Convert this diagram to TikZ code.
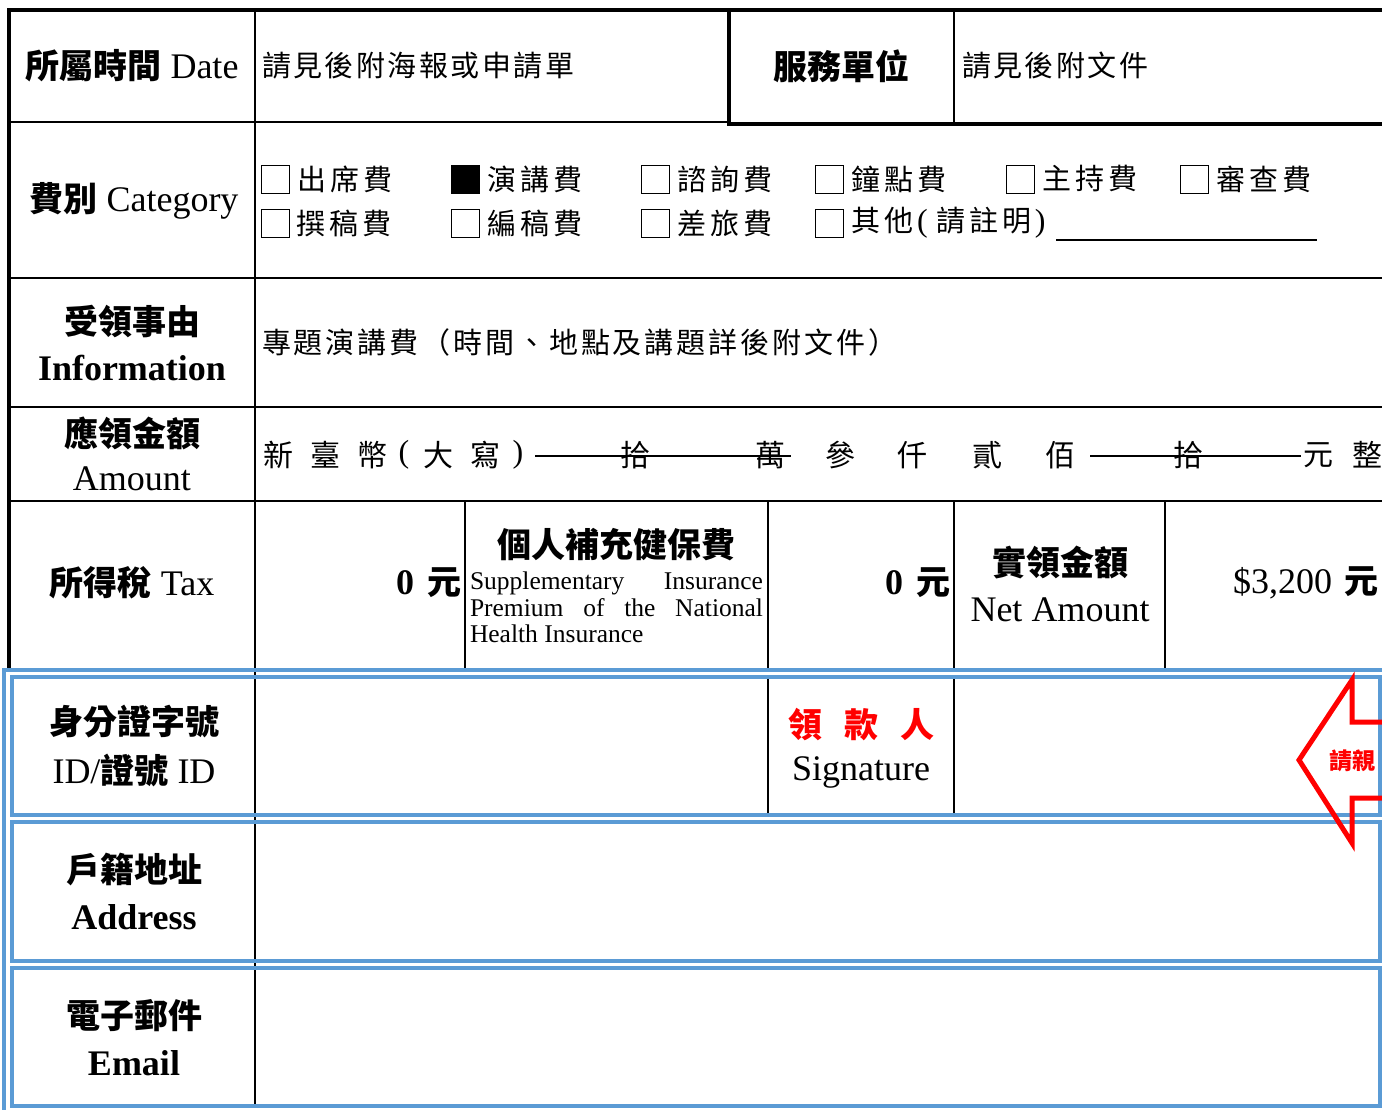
\documentclass[tikz,border=0pt]{standalone}
\usepackage{fontspec}
\setmainfont{Liberation Serif}
\newfontfamily\cjk{Noto Sans CJK TC}
\newfontfamily\cjkwide{Noto Sans CJK TC}[LetterSpace=8.5]
\newfontfamily\cjkmid{Noto Sans CJK TC}[LetterSpace=14]
\newfontfamily\cjknar{Noto Sans CJK TC}[LetterSpace=10]
\definecolor{fblue}{RGB}{91,155,213}
\definecolor{fred}{RGB}{255,0,0}
\newcommand\zhB[1]{{\cjk\bfseries\fontsize{34}{38}\selectfont #1}}
\newcommand\enR[1]{{\fontsize{36}{40}\selectfont #1}}
\newcommand\enB[1]{{\bfseries\fontsize{36}{40}\selectfont #1}}
\newcommand\gap{\hspace{9pt}}
\begin{document}
\begin{tikzpicture}[x=1pt,y=-1pt,
  tl/.style={inner sep=0pt, outer sep=0pt},
  gridline/.style={line width=1.8pt},
  heavyline/.style={line width=3.2pt},
  blueline/.style={fblue, line width=3.6pt},
  cbox/.style={draw, line width=1.3pt, minimum size=28pt, inner sep=0pt, anchor=north west},
  cat/.style={tl, anchor=west, font=\cjkmid\fontsize{29}{34}\selectfont},
  amt/.style={tl, font=\cjk\fontsize{30}{34}\selectfont}]
\useasboundingbox (0,0) rectangle (1382,1109);
\clip (0,0) rectangle (1382,1109);

% ---- black grid ----
\draw[heavyline] (9,10) -- (1390,10);
\draw[heavyline] (9,8.4) -- (9,668);
\draw[gridline] (255,10) -- (255,1106);
\draw[gridline] (9,122) -- (729,122);
\draw[line width=3.6pt] (729,10) -- (729,123.8) -- (1390,123.8);
\draw[gridline] (954,10) -- (954,122);
\draw[line width=2.2pt] (9,278) -- (1390,278);
\draw[line width=2.2pt] (9,407) -- (1390,407);
\draw[line width=2.2pt] (9,501) -- (1390,501);
\foreach \cx in {465,768,954,1165} \draw[gridline] (\cx,501) -- (\cx,668);
\foreach \cx in {768,954} \draw[gridline] (\cx,677) -- (\cx,815);

% ---- blue frames ----
\draw[blueline] (4,1120) -- (4,670) -- (1390,670);
\draw[blueline] (12,677) rectangle (1380,815);
\draw[blueline] (12,822) rectangle (1380,961);
\draw[blueline] (12,968) rectangle (1380,1106);

% ---- row 1 ----
\node[tl] (l1) at (132,66) {\zhB{所屬時間}\gap\enR{Date}};
\node[tl, anchor=west] (t1) at (262,66) {\cjkwide\fontsize{29}{34}\selectfont 請見後附海報或申請單};
\node[tl] (l1b) at (841,66) {\zhB{服務單位}};
\node[tl, anchor=west] (t1b) at (962,66) {\cjkwide\fontsize{29}{34}\selectfont 請見後附文件};

% ---- row 2 ----
\node[tl] (l2) at (134,201) {\zhB{費別}\gap\enR{Category}};
\node[cbox] (b1) at (261,165) {};
\node[cbox, fill=black] (b2) at (451,165) {};
\node[cbox] (b3) at (641,165) {};
\node[cbox] (b4) at (815,165) {};
\node[cbox] (b5) at (1006,165) {};
\node[cbox] (b6) at (1180,165) {};
\node[cbox] (b7) at (261,209) {};
\node[cbox] (b8) at (451,209) {};
\node[cbox] (b9) at (641,209) {};
\node[cbox] (b10) at (815,209) {};
\node[cat] (c1) at (297,179) {出席費};
\node[cat] (c2) at (487,179) {演講費};
\node[cat] (c3) at (677,179) {諮詢費};
\node[cat] (c4) at (851,179) {鐘點費};
\node[cat] (c5) at (1042,179) {主持費};
\node[cat] (c6) at (1216,179) {審查費};
\node[cat] (c7) at (296,223) {撰稿費};
\node[cat] (c8) at (487,223) {編稿費};
\node[cat] (c9) at (677,223) {差旅費};
\node[tl, anchor=west] (c10) at (851,223) {{\cjkmid\fontsize{29}{34}\selectfont 其他}\hspace{4pt}{\fontsize{32}{34}\selectfont (}\hspace{9pt}{\cjkmid\fontsize{29}{34}\selectfont 請註明}\hspace{3pt}{\fontsize{32}{34}\selectfont )}};
\coordinate (u1) at (1056,240);
\coordinate (u2) at (1317,240);
\draw[line width=2pt] (u1) -- (u2);

% ---- row 3 ----
\node[tl] (l3a) at (132,322) {\zhB{受領事由}};
\node[tl] (l3b) at (132,368) {\enB{Information}};
\node[tl, anchor=west] (t3) at (262,342) {\cjknar\fontsize{29}{34}\selectfont 專題演講費（時間、地點及講題詳後附文件）};

% ---- row 4 ----
\node[tl] (l4a) at (132,433) {\zhB{應領金額}};
\node[tl] (l4b) at (132,479) {\enR{Amount}};
\node[amt] (a1) at (278,455) {新};
\node[amt] (a2) at (325,455) {臺};
\node[amt] (a3) at (372,455) {幣};
\node[tl, font=\fontsize{32}{34}\selectfont] (a4) at (404,455) {(};
\node[amt] (a5) at (438,455) {大};
\node[amt] (a6) at (485,455) {寫};
\node[tl, font=\fontsize{32}{34}\selectfont] (a7) at (518,455) {)};
\node[amt] (a8) at (635,455) {拾};
\node[amt] (a9) at (770,455) {萬};
\node[amt] (a10) at (840,455) {參};
\node[amt] (a11) at (912,455) {仟};
\node[amt] (a12) at (987,455) {貳};
\node[amt] (a13) at (1060,455) {佰};
\node[amt] (a14) at (1188,455) {拾};
\node[amt] (a15) at (1318,455) {元};
\node[amt] (a16) at (1367,455) {整};
\coordinate (s1) at (535,456);
\coordinate (s2) at (791,456);
\coordinate (s3) at (1090,456);
\coordinate (s4) at (1301,456);
\draw[line width=2pt] (s1) -- (s2);
\draw[line width=2pt] (s3) -- (s4);

% ---- row 5 ----
\node[tl] (l5) at (132,583) {\zhB{所得稅}\gap\enR{Tax}};
\node[tl, anchor=east] (tax) at (461,583) {\enB{0}\hspace{13pt}\zhB{元}};
\node[tl] (nh) at (616,545) {\zhB{個人補充健保費}};
\node[tl, anchor=north west, text width=293pt, align=justify, font=\fontsize{25.5}{26.6}\selectfont] (nhe) at (470,572) {Supplementary Insurance Premium of the National Health Insurance};
\node[tl, anchor=east] (nhv) at (950,583) {\enB{0}\hspace{13pt}\zhB{元}};
\node[tl] (net) at (1060,563) {\zhB{實領金額}};
\node[tl] (neten) at (1060,610) {\enR{Net Amount}};
\node[tl, anchor=west] (netv) at (1233,583) {\enR{\$3,200}\hspace{12pt}\zhB{元}};

% ---- blue rows ----
\node[tl] (l6a) at (134,722) {\zhB{身分證字號}};
\node[tl] (l6b) at (134,770) {\enR{ID/}\zhB{證號}\gap\enR{ID}};
\node[tl, text=fred] (sg) at (861,725) {\zhB{領\hspace{22pt}款\hspace{22pt}人}};
\node[tl] (sgen) at (861,772) {\enR{Signature}};
\node[tl] (l7a) at (134,870) {\zhB{戶籍地址}};
\node[tl] (l7b) at (134,917) {\enB{Address}};
\node[tl] (l8a) at (134,1016) {\zhB{電子郵件}};
\node[tl] (l8b) at (134,1063) {\enB{Email}};

% ---- red arrow ----
\draw[fred, line width=5pt, line join=miter, miter limit=10] (1392,722) -- (1352,722) -- (1352,680) -- (1299,760) -- (1352,843) -- (1352,798) -- (1392,798);
\node[tl, text=fred, anchor=west] (ask) at (1329,761) {{\cjk\bfseries\fontsize{23}{26}\selectfont 請親}};
\end{tikzpicture}
\end{document}
